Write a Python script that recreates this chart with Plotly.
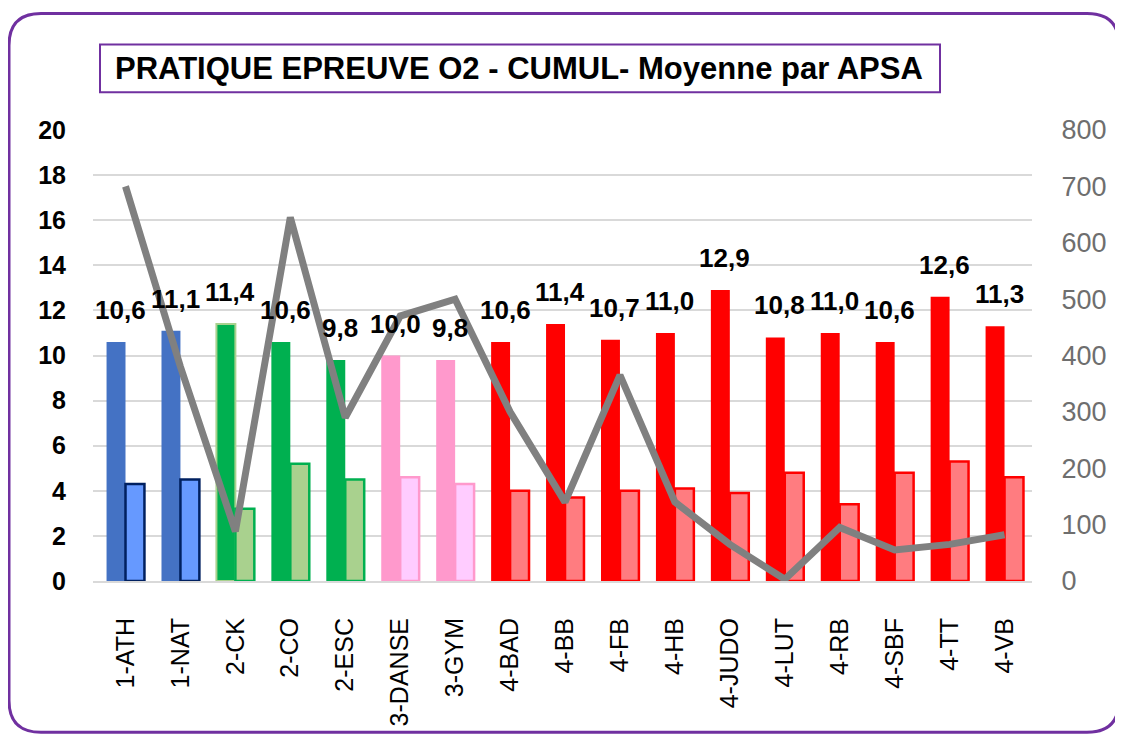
import plotly.graph_objects as go

categories = ["1-ATH", "1-NAT", "2-CK", "2-CO", "2-ESC", "3-DANSE", "3-GYM",
              "4-BAD", "4-BB", "4-FB", "4-HB", "4-JUDO", "4-LUT", "4-RB",
              "4-SBF", "4-TT", "4-VB"]
moyenne = [10.6, 11.1, 11.4, 10.6, 9.8, 10.0, 9.8, 10.6, 11.4, 10.7, 11.0,
           12.9, 10.8, 11.0, 10.6, 12.6, 11.3]
second_serie = [4.3, 4.5, 3.2, 5.2, 4.5, 4.6, 4.3, 4.0, 3.7, 4.0, 4.1, 3.9,
                4.8, 3.4, 4.8, 5.3, 4.6]
effectif = [700, 380, 88, 645, 290, 470, 500, 300, 140, 365, 140, 65, 3, 95,
            55, 65, 82]
groupes = [1, 1, 2, 2, 2, 3, 3, 4, 4, 4, 4, 4, 4, 4, 4, 4, 4]

main_col = {1: "#4472C4", 2: "#00B050", 3: "#FF99CC", 4: "#FF0000"}
light_col = {1: "#6699FF", 2: "#A9D18E", 3: "#FFCCFF", 4: "#FF7C80"}
light_line = {1: "#002060", 2: "#00B050", 3: "#FF99CC", 4: "#FF0000"}

OFF = 8  # page body margin
W, H = 1123 - OFF, 738 - OFF
L, R, T, B = 93 - OFF, 1032 - OFF, 130 - OFF, 583 - OFF


def px(x):
    return (x - OFF - L) / (R - L)


def py(y):
    return (B - (y - OFF)) / (B - T)


fig = go.Figure()
fig.add_trace(go.Bar(
    x=categories, y=moyenne, name="Moyenne",
    marker=dict(color=[main_col[g] for g in groupes],
                line=dict(color=["#A9D18E" if c == "2-CK" else main_col[g]
                                 for c, g in zip(categories, groupes)],
                          width=[2 if c == "2-CK" else 0 for c in categories])),
    yaxis="y"))
fig.add_trace(go.Bar(
    x=categories, y=second_serie, name="Serie 2",
    marker=dict(color=[light_col[g] for g in groupes],
                line=dict(color=[light_line[g] for g in groupes], width=2.5)),
    yaxis="y"))
fig.add_trace(go.Scatter(
    x=categories, y=effectif, mode="lines", name="Effectif",
    line=dict(color="#808080", width=7), yaxis="y2"))

annotations = []
for c, v in zip(categories, moyenne):
    annotations.append(dict(
        x=c, y=v, xref="x", yref="y",
        text="<b>" + f"{v:.1f}".replace(".", ",") + "</b>",
        showarrow=False, yanchor="bottom", xshift=-5, yshift=15,
        font=dict(family="Liberation Sans", size=26, color="#000000")))
annotations.append(dict(
    x=px(519), y=py(68), xref="paper", yref="paper",
    text="<b>PRATIQUE EPREUVE O2 - CUMUL- Moyenne par APSA</b>",
    showarrow=False, xanchor="center", yanchor="middle",
    font=dict(family="Liberation Sans", size=31, color="#000000")))

# rounded outer border
x0, x1, y0, y1, r = 9, 1119, 13, 735, 32
path = (f"M {px(x0+r)},{py(y0)} L {px(x1-r)},{py(y0)} "
        f"Q {px(x1)},{py(y0)} {px(x1)},{py(y0+r)} "
        f"L {px(x1)},{py(y1-r)} Q {px(x1)},{py(y1)} {px(x1-r)},{py(y1)} "
        f"L {px(x0+r)},{py(y1)} Q {px(x0)},{py(y1)} {px(x0)},{py(y1-r)} "
        f"L {px(x0)},{py(y0+r)} Q {px(x0)},{py(y0)} {px(x0+r)},{py(y0)} Z")
shapes = [
    dict(type="path", path=path, xref="paper", yref="paper",
         line=dict(color="#7030A0", width=3), layer="below"),
    dict(type="rect", xref="paper", yref="paper",
         x0=px(100), x1=px(940), y0=py(44), y1=py(92),
         line=dict(color="#7030A0", width=2), fillcolor="rgba(0,0,0,0)"),
]

fig.update_layout(
    width=W, height=H,
    margin=dict(l=L, r=W - R, t=T, b=H - B, pad=0),
    paper_bgcolor="white", plot_bgcolor="white",
    barmode="group", bargap=0.31, bargroupgap=0,
    showlegend=False,
    annotations=annotations, shapes=shapes,
    xaxis=dict(type="category", showgrid=False, zeroline=False,
               ticks="outside", ticklen=25, tickcolor="rgba(0,0,0,0)",
               tickangle=-90, showline=True, linecolor="#D9D9D9", linewidth=2,
               tickfont=dict(family="Liberation Sans", size=25, color="#000000")),
    yaxis=dict(range=[0, 20], dtick=2, showgrid=True, gridcolor="#D9D9D9",
               gridwidth=2, zeroline=False, ticks="outside", ticklen=21,
               tickcolor="rgba(0,0,0,0)",
               tickfont=dict(family="Liberation Sans", size=25, color="#000000"),
               tickprefix="<b>", ticksuffix="</b>"),
    yaxis2=dict(range=[0, 800], dtick=100, overlaying="y", side="right",
                showgrid=False, zeroline=False, ticks="outside", ticklen=23,
                tickcolor="rgba(0,0,0,0)",
                tickfont=dict(family="Liberation Sans", size=27, color="#6E6E6E")),
)

fig.write_html("out.html")
